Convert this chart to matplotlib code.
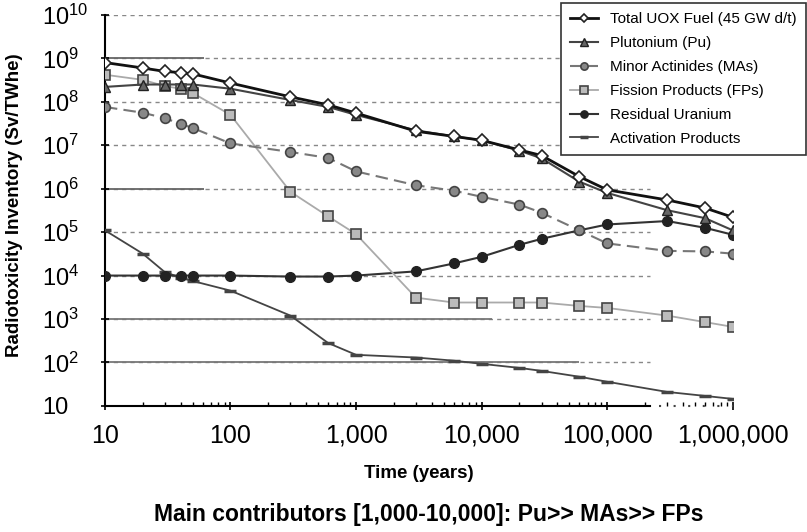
import numpy as np
import matplotlib.pyplot as plt
from matplotlib.ticker import FixedLocator, LogLocator, NullFormatter

plt.rcParams['font.family'] = ['Liberation Sans', 'DejaVu Sans']
plt.rcParams['mathtext.fontset'] = 'custom'
plt.rcParams['mathtext.rm'] = 'Liberation Sans'
plt.rcParams['mathtext.it'] = 'Liberation Sans'
plt.rcParams['mathtext.bf'] = 'Liberation Sans:bold'

# time points (years)
years = [10, 20, 30, 40, 50, 100, 300, 600, 1000, 3000, 6000, 10000,
         20000, 30000, 60000, 100000, 300000, 600000, 1000000]

# radiotoxicity (Sv/TWhe)
total_uox = [8e8, 6e8, 5e8, 4.7e8, 4.4e8, 2.7e8, 1.3e8, 8.5e7, 5.5e7, 2.1e7,
             1.6e7, 1.3e7, 7.8e6, 5.8e6, 1.9e6, 9.4e5, 5.5e5, 3.6e5, 2.2e5]
plutonium = [2.2e8, 2.5e8, 2.5e8, 2.5e8, 2.5e8, 2e8, 1.1e8, 7.6e7, 5e7, 2.2e7,
             1.6e7, 1.3e7, 7.5e6, 5e6, 1.45e6, 8e5, 3.2e5, 2.1e5, 1.1e5]
minor_act = [7.6e7, 5.6e7, 4.2e7, 3.1e7, 2.5e7, 1.1e7, 7e6, 5.1e6, 2.5e6, 1.2e6,
             9e5, 6.5e5, 4.3e5, 2.8e5, 1.1e5, 5.5e4, 3.7e4, 3.6e4, 3.2e4]
fission = [4.2e8, 3.2e8, 2.3e8, 2e8, 1.6e8, 5e7, 8.5e5, 2.3e5, 9e4, 3.1e3,
           2.4e3, 2.4e3, 2.4e3, 2.4e3, 2e3, 1.8e3, 1.2e3, 8.5e2, 6.6e2]
uranium = [1e4, 1e4, 1e4, 1e4, 1e4, 1e4, 9.5e3, 9.5e3, 1e4, 1.25e4,
           1.9e4, 2.7e4, 5.1e4, 7e4, 1.1e5, 1.5e5, 1.8e5, 1.26e5, 8.7e4]
activation = [1.1e5, 3.2e4, 1.2e4, 9e3, 7.5e3, 4.5e3, 1.2e3, 2.8e2, 1.5e2, 1.3e2,
              1.1e2, 9.3e1, 7.5e1, 6.4e1, 4.7e1, 3.6e1, 2.1e1, 1.7e1, 1.45e1]

fig = plt.figure(figsize=(8.07, 5.32), dpi=100)
ax = fig.add_axes([0.130, 0.237, 0.778, 0.735])

# decade grid: upper lines run full width, lower ones stop short
for p in range(2, 11):
    end = 1e6 if p >= 7 else 2.2e5
    ax.hlines(10.0 ** p, 10, end, color='#888888', lw=1.0, ls=(0, (3, 3)), zorder=0)
# short solid lines left over in the original figure
ax.hlines([1e9, 1e6], 10, 62, color='#666666', lw=1.3, zorder=1)
ax.hlines(1e3, 10, 1.2e4, color='#777777', lw=1.3, zorder=1)
ax.hlines(1e2, 10, 6e4, color='#777777', lw=1.3, zorder=1)

ax.plot(years, activation, color='#444444', lw=1.3, marker='_', ms=8, mew=2.5,
        label='Activation Products', zorder=3)
ax.plot(years, uranium, color='#333333', lw=1.5, marker='o', ms=7,
        mfc='#222222', mec='#222222', label='Residual Uranium', zorder=4)
ax.plot(years, fission, color='#aaaaaa', lw=1.3, marker='s', ms=7,
        mfc='#bbbbbb', mec='#444444', mew=1.2, label='Fission Products (FPs)', zorder=4)
ax.plot(years, minor_act, color='#777777', lw=1.5, ls=(0, (6, 3)), marker='o', ms=7,
        mfc='#888888', mec='#444444', mew=1.2, label='Minor Actinides (MAs)', zorder=4)
ax.plot(years, plutonium, color='#444444', lw=1.5, marker='^', ms=7,
        mfc='#666666', mec='#222222', label='Plutonium (Pu)', zorder=5)
ax.plot(years, total_uox, color='#111111', lw=2.0, marker='D', ms=6,
        mfc='white', mec='#222222', mew=1.2, label='Total UOX Fuel (45 GW d/t)', zorder=6)

ax.set_xscale('log')
ax.set_yscale('log')
ax.set_xlim(10, 1e6)
ax.set_ylim(10, 1e10)

ax.xaxis.set_major_locator(FixedLocator([10, 100, 1000, 10000, 100000, 1000000]))
ax.set_xticklabels(['10', '100', '1,000', '10,000', '100,000', '1,000,000'])
ax.xaxis.set_minor_locator(LogLocator(base=10, subs=np.arange(2, 10)))
ax.xaxis.set_minor_formatter(NullFormatter())

ax.yaxis.set_major_locator(FixedLocator([10.0 ** p for p in range(1, 11)]))
ax.set_yticklabels(['10'] + [r'10$^{%d}$' % p for p in range(2, 11)])
ax.yaxis.set_minor_locator(LogLocator(base=10, subs=np.arange(2, 10)))
ax.yaxis.set_minor_formatter(NullFormatter())

ax.tick_params(axis='both', which='major', direction='inout', length=6, width=1.2)
ax.tick_params(axis='both', which='minor', direction='in', length=3, width=1)
ax.tick_params(axis='x', labelsize=18, pad=10)
ax.tick_params(axis='y', labelsize=17, pad=42)
for t in ax.get_yticklabels():
    t.set_horizontalalignment('left')

for s in ['top', 'right']:
    ax.spines[s].set_visible(False)
for s in ['left', 'bottom']:
    ax.spines[s].set_linewidth(1.5)
ax.spines['bottom'].set_bounds(10, 2.2e5)
ax.hlines(10, 2.6e5, 1e6, color='#444444', lw=1.5, ls=(0, (1, 6)), clip_on=False)

ax.set_xlabel('Time (years)', fontsize=13.5, fontweight='bold', labelpad=12)
fig.text(15 / 807, 1 - 205 / 532, 'Radiotoxicity Inventory (Sv/TWhe)', rotation=90,
         ha='center', va='center', fontsize=13.5, fontweight='bold')

handles, labels = ax.get_legend_handles_labels()
leg = ax.legend(handles[::-1], labels[::-1], loc='upper right',
                bbox_to_anchor=(806 / 807, 1 - 3 / 532), bbox_transform=fig.transFigure,
                borderaxespad=0, fontsize=11, fancybox=False, framealpha=1,
                edgecolor='#333333', handlelength=1.8, handletextpad=0.8,
                labelspacing=0.65, borderpad=0.6, markerscale=0.75)
leg.get_frame().set_linewidth(1.2)

fig.text(429 / 807, 1 - 521 / 532, 'Main contributors [1,000-10,000]: Pu>> MAs>> FPs',
         ha='center', va='baseline', fontsize=16.5, fontweight='bold')

fig.savefig('out.png', dpi=100)
